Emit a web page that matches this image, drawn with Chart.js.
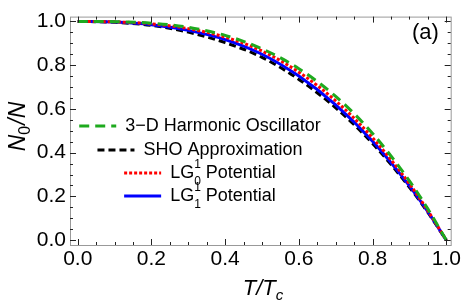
<!DOCTYPE html>
<html lang="en">
<head>
    <meta charset="UTF-8">
    <title>N0/N vs T/Tc</title>
    <style>
        body {
            margin: 0;
            padding: 0;
            background: #fff;
        }
        #wrap {
            width: 463px;
            height: 306px;
        }
    </style>
</head>
<body>
    <div id="wrap"><canvas id="myChart" width="463" height="306"></canvas></div>

    <script src="https://cdn.jsdelivr.net/npm/chart.js"></script>
    <script>
        // values
        var tValues = [0, 0.1, 0.2, 0.3, 0.4, 0.5, 0.6, 0.7, 0.8, 0.9, 0.95, 1.0];
        var harmonic3D = [1, 0.999, 0.992, 0.973, 0.936, 0.875, 0.784, 0.657, 0.488, 0.271, 0.143, 0];
        var shoApprox = [1, 0.996, 0.982, 0.951, 0.903, 0.836, 0.735, 0.605, 0.442, 0.242, 0.127, 0];
        var lg01 = [1, 0.998, 0.989, 0.967, 0.928, 0.865, 0.768, 0.637, 0.468, 0.258, 0.135, 0];
        var lg11 = [1, 0.997, 0.985, 0.959, 0.917, 0.850, 0.750, 0.618, 0.452, 0.248, 0.130, 0];
        var tickValues = [0, 0.2, 0.4, 0.6, 0.8, 1.0];

        var FONT = '"Liberation Sans", Arial, sans-serif';

        function pts(ys) {
            return tValues.map(function (t, i) { return { x: t, y: ys[i] }; });
        }

        function minorTicks() {
            var out = [];
            for (var i = 0; i <= 20; i++) out.push({ value: i * 0.05 });
            return out;
        }

        function isMajor(v) {
            return tickValues.some(function (m) { return Math.abs(m - v) < 1e-6; });
        }

        var series = [
            { label: '3-D', data: harmonic3D, color: 'rgb(30,170,30)', dash: [10, 6], order: 1 },
            { label: 'LG01', data: lg01, color: '#ff0000', dash: [3, 2], order: 2 },
            { label: 'LG11', data: lg11, color: '#0000ff', dash: [], order: 3 },
            { label: 'SHO', data: shoApprox, color: '#000000', dash: [7, 4], order: 4 }
        ];

        // frame, inward ticks, titles, legend
        var decor = {
            id: 'decor',
            afterDraw: function (chart) {
                var ctx = chart.ctx;
                var a = chart.chartArea;
                var xs = chart.scales.x, ys = chart.scales.y;
                ctx.save();
                ctx.strokeStyle = '#999';
                ctx.lineWidth = 1;
                ctx.strokeRect(a.left + 0.5, a.top + 0.5, a.right - a.left, a.bottom - a.top);

                ctx.strokeStyle = '#222';
                ctx.beginPath();
                minorTicks().forEach(function (tk) {
                    var len = isMajor(tk.value) ? 6 : 3;
                    var px = Math.round(xs.getPixelForValue(tk.value)) + 0.5;
                    ctx.moveTo(px, a.bottom); ctx.lineTo(px, a.bottom - len);
                    ctx.moveTo(px, a.top); ctx.lineTo(px, a.top + len);
                    var py = Math.round(ys.getPixelForValue(tk.value)) + 0.5;
                    ctx.moveTo(a.left, py); ctx.lineTo(a.left + len, py);
                    ctx.moveTo(a.right, py); ctx.lineTo(a.right - len, py);
                });
                ctx.stroke();

                ctx.fillStyle = '#000';
                ctx.textBaseline = 'middle';

                // x title: T/T_c
                ctx.font = 'italic 22px ' + FONT;
                var w1 = ctx.measureText('T/T').width;
                ctx.font = 'italic 15px ' + FONT;
                var w2 = ctx.measureText('c').width;
                var x0 = 263 - (w1 + w2) / 2;
                ctx.font = 'italic 22px ' + FONT;
                ctx.textAlign = 'left';
                ctx.fillText('T/T', x0, 289);
                ctx.font = 'italic 15px ' + FONT;
                ctx.fillText('c', x0 + w1, 296);

                // y title: N_0/N
                ctx.save();
                ctx.translate(19, 127);
                ctx.rotate(-Math.PI / 2);
                ctx.font = 'italic 23px ' + FONT;
                var n1 = ctx.measureText('N').width;
                var n3 = ctx.measureText('/N').width;
                ctx.font = '16px ' + FONT;
                var n2 = ctx.measureText('0').width;
                var s = -(n1 + n2 + n3) / 2;
                ctx.font = 'italic 23px ' + FONT;
                ctx.fillText('N', s, 0);
                ctx.font = '16px ' + FONT;
                ctx.fillText('0', s + n1, 7);
                ctx.font = 'italic 23px ' + FONT;
                ctx.fillText('/N', s + n1 + n2 + 1, 0);
                ctx.restore();

                // panel label
                ctx.font = '22px ' + FONT;
                ctx.fillText('(a)', 412, 33);

                // legend
                var rows = [
                    { s: series[0], y: 126, parts: [['3\u2212D Harmonic Oscillator']] },
                    { s: series[3], y: 150, parts: [['SHO Approximation']] },
                    { s: series[1], y: 173, parts: [['LG'], ['1', 'sup', '0'], [' Potential']] },
                    { s: series[2], y: 196, parts: [['LG'], ['1', 'sup', '1'], [' Potential']] }
                ];
                rows.forEach(function (r) {
                    var tw = 0;
                    r.parts.forEach(function (p) {
                        if (p[1] === 'sup') {
                            ctx.font = '12px ' + FONT;
                            tw += ctx.measureText(p[0]).width;
                        } else {
                            ctx.font = '18px ' + FONT;
                            tw += ctx.measureText(p[0]).width;
                        }
                    });
                    var lineLen = 37, gap = 9;
                    var start = 200 - (lineLen + gap + tw) / 2;
                    ctx.strokeStyle = r.s.color;
                    ctx.lineWidth = 3;
                    ctx.setLineDash(r.s.dash);
                    ctx.beginPath();
                    ctx.moveTo(start, r.y);
                    ctx.lineTo(start + lineLen, r.y);
                    ctx.stroke();
                    ctx.setLineDash([]);
                    var x = start + lineLen + gap;
                    r.parts.forEach(function (p) {
                        if (p[1] === 'sup') {
                            ctx.font = '12px ' + FONT;
                            ctx.fillText(p[0], x, r.y - 8);
                            ctx.fillText(p[2], x, r.y + 9);
                            x += ctx.measureText(p[0]).width;
                        } else {
                            ctx.font = '18px ' + FONT;
                            ctx.fillText(p[0], x, r.y);
                            x += ctx.measureText(p[0]).width;
                        }
                    });
                });
                ctx.restore();
            }
        };

        var ctx = document.getElementById('myChart').getContext('2d');
        var myChart = new Chart(ctx, {
            type: 'line',
            data: {
                datasets: series.map(function (s) {
                    return {
                        label: s.label,
                        data: pts(s.data),
                        borderColor: s.color,
                        borderDash: s.dash,
                        borderWidth: 3,
                        pointRadius: 0,
                        fill: false,
                        cubicInterpolationMode: 'monotone',
                        order: s.order
                    };
                })
            },
            options: {
                responsive: false,
                animation: false,
                devicePixelRatio: 1,
                layout: { padding: { top: 7, right: 12, left: 0, bottom: 0 } },
                plugins: {
                    legend: { display: false },
                    tooltip: { enabled: false }
                },
                scales: {
                    x: {
                        type: 'linear',
                        min: -0.021,
                        max: 1.012,
                        afterBuildTicks: function (axis) { axis.ticks = minorTicks(); },
                        afterFit: function (axis) { axis.height = 61; },
                        grid: { display: true, drawOnChartArea: false, drawTicks: false },
                        border: { display: false },
                        ticks: {
                            autoSkip: false,
                            maxRotation: 0,
                            padding: 2,
                            color: '#000',
                            font: { family: FONT, size: 21 },
                            callback: function (v) { return isMajor(v) ? v.toFixed(1) : ''; }
                        }
                    },
                    y: {
                        type: 'linear',
                        min: -0.022,
                        max: 1.022,
                        afterBuildTicks: function (axis) { axis.ticks = minorTicks(); },
                        afterFit: function (axis) { axis.width = 70; },
                        grid: { display: true, drawOnChartArea: false, drawTicks: false },
                        border: { display: false },
                        ticks: {
                            autoSkip: false,
                            padding: 4,
                            color: '#000',
                            font: { family: FONT, size: 21 },
                            callback: function (v) { return isMajor(v) ? v.toFixed(1) : ''; }
                        }
                    }
                }
            },
            plugins: [decor]
        });
    </script>
</body>
</html>
